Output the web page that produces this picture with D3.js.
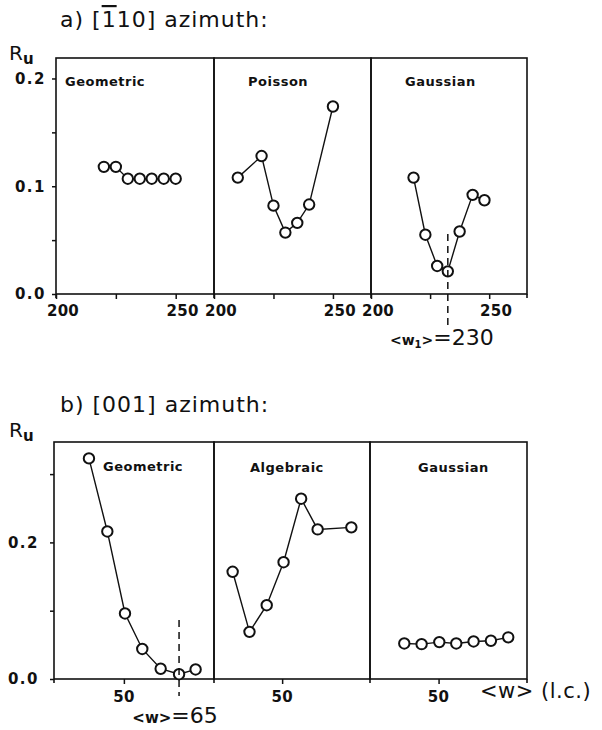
<!DOCTYPE html>
<meta charset="utf-8">
<html>
<style>
body { margin: 0; background: #fff; }
text { fill: #111; }
.tick { font-family: "DejaVu Sans", sans-serif; font-weight: bold; font-size: 15px; letter-spacing: 1.5px; }
.xtick { font-family: "DejaVu Sans", sans-serif; font-weight: bold; font-size: 15px; letter-spacing: 0.3px; }
.plabel { font-family: "DejaVu Sans", sans-serif; font-weight: bold; font-size: 13px; letter-spacing: 0.5px; }
.title { font-family: "DejaVu Sans", sans-serif; font-size: 22px; letter-spacing: 1px; }
.frame { fill: none; stroke: #111; stroke-width: 1.6px; }
.line { fill: none; stroke: #111; stroke-width: 1.4px; }
.dot { fill: #fff; stroke: #111; stroke-width: 2px; }
.dash { stroke: #111; stroke-width: 1.5px; stroke-dasharray: 7,5; }
</style>
<body>
<script src="https://d3js.org/d3.v7.min.js"></script>
<script>

// a) [-110] azimuth
var aLabels = ["Geometric", "Poisson", "Gaussian"];
var aGeomW = [220, 225, 230, 235, 240, 245, 250];
var aGeomR = [0.118, 0.118, 0.107, 0.107, 0.107, 0.107, 0.107];
var aPoisW = [210, 220, 225, 230, 235, 240, 250];
var aPoisR = [0.108, 0.128, 0.082, 0.057, 0.066, 0.083, 0.174];
var aGausW = [218, 223, 228, 232.5, 237.5, 243, 248];
var aGausR = [0.108, 0.055, 0.026, 0.021, 0.058, 0.092, 0.087];
var aXTicks = [200, 225, 250];
var aXLabels = [200, 250];
var aYTicks = [0, 0.05, 0.1, 0.15, 0.2];
var aYLabels = [0, 0.1, 0.2];
var aMarkW = 232.5, aMarkText = "230";

// b) [001] azimuth
var bLabels = ["Geometric", "Algebraic", "Gaussian"];
var bGeomW = [40.5, 45.5, 50.3, 55, 60, 65, 69.5];
var bGeomR = [0.323, 0.216, 0.096, 0.044, 0.015, 0.007, 0.014];
var bAlgW = [36.2, 40.9, 45.7, 50.4, 55.3, 59.9, 69.3];
var bAlgR = [0.157, 0.069, 0.108, 0.171, 0.264, 0.219, 0.222];
var bGausW = [40.5, 45.3, 50.2, 54.9, 59.7, 64.5, 69.3];
var bGausR = [0.052, 0.051, 0.054, 0.052, 0.055, 0.056, 0.061];
var bXTicks = [50];
var bXLabels = [50];
var bYTicks = [0, 0.1, 0.2, 0.3];
var bYLabels = [0, 0.2];
var bMarkW = 65, bMarkText = "65";

var svg = d3.select("body").append("svg")
    .attr("width", 602)
    .attr("height", 730);

function drawBlock(cfg) {
  var y = d3.scaleLinear().domain(cfg.yDomain).range([cfg.bottom, cfg.top]);
  var g = svg.append("g");

  cfg.series.forEach(function(s, i) {
    var x0 = cfg.edges[i], x1 = cfg.edges[i + 1];
    var x = d3.scaleLinear().domain(cfg.xDomain).range([x0, x1]);
    var p = g.append("g");

    // panel frame
    p.append("rect").attr("class", "frame")
        .attr("x", x0).attr("y", cfg.top)
        .attr("width", x1 - x0).attr("height", cfg.bottom - cfg.top);
    p.append("line").attr("class", "frame")
        .attr("x1", x0).attr("x2", x0).attr("y1", cfg.bottom).attr("y2", cfg.bottom + 4);
    if (i == cfg.series.length - 1)
      p.append("line").attr("class", "frame")
          .attr("x1", x1).attr("x2", x1).attr("y1", cfg.bottom).attr("y2", cfg.bottom + 4);

    // x axis ticks
    var ax = p.append("g")
        .attr("transform", "translate(0," + cfg.bottom + ")")
        .call(d3.axisBottom(x).tickValues(cfg.xTicks).tickSize(5).tickFormat(""));
    ax.select(".domain").remove();
    ax.selectAll("line").attr("stroke", "#111").attr("stroke-width", 1.5);

    p.selectAll(".xl").data(cfg.xLabels).enter().append("text")
        .attr("class", "xtick")
        .attr("x", function(d) { return x(d) + cfg.xLabelDx; })
        .attr("y", cfg.xLabelY)
        .attr("text-anchor", "middle")
        .text(function(d) { return d; });

    // data line + circles
    var pts = s.w.map(function(w, j) { return [w, s.r[j]]; });
    p.append("path").datum(pts).attr("class", "line")
        .attr("d", d3.line().x(function(d) { return x(d[0]); }).y(function(d) { return y(d[1]); }));
    p.selectAll("circle").data(pts).enter().append("circle")
        .attr("class", "dot")
        .attr("cx", function(d) { return x(d[0]); })
        .attr("cy", function(d) { return y(d[1]); })
        .attr("r", 5.2);

    p.append("text").attr("class", "plabel")
        .attr("x", x0 + cfg.labelDx[i])
        .attr("y", cfg.labelY[i])
        .text(s.label);

    if (i == cfg.markPanel) {
      p.append("line").attr("class", "dash")
          .attr("x1", x(cfg.markW)).attr("x2", x(cfg.markW))
          .attr("y1", cfg.markY[0]).attr("y2", cfg.markY[1]);
      cfg.markX = x(cfg.markW);
    }
  });

  // y axis
  var ay = g.append("g")
      .attr("transform", "translate(" + cfg.edges[0] + ",0)")
      .call(d3.axisLeft(y).tickValues(cfg.yTicks).tickSize(4).tickFormat(""));
  ay.select(".domain").remove();
  ay.selectAll("line").attr("stroke", "#111").attr("stroke-width", 1.5);

  g.selectAll(".yl").data(cfg.yLabels).enter().append("text")
      .attr("class", "tick")
      .attr("x", cfg.yLabelX)
      .attr("y", function(d) { return y(d); })
      .attr("dy", "0.36em")
      .attr("text-anchor", "end")
      .text(function(d) { return d3.format(".1f")(d); });

  // R_u
  var ru = g.append("text").attr("class", "title")
      .attr("x", 9).attr("y", cfg.ruY)
      .style("font-size", "20px").style("letter-spacing", "0px");
  ru.append("tspan").text("R");
  ru.append("tspan").attr("dy", 4).style("font-size", "15px").style("font-weight", "bold").text("u");

  return cfg;
}

// titles
var ta = svg.append("text").attr("class", "title").attr("x", 60).attr("y", 27);
ta.append("tspan").text("a) [");
ta.append("tspan").style("text-decoration", "overline").text("1");
ta.append("tspan").text("10]  azimuth:");

svg.append("text").attr("class", "title").attr("x", 60).attr("y", 412)
    .text("b) [001]  azimuth:");

var A = drawBlock({
  top: 58, bottom: 294, yDomain: [0, 0.219],
  edges: [56, 214, 371, 527], xDomain: [200, 266],
  series: [
    {label: aLabels[0], w: aGeomW, r: aGeomR},
    {label: aLabels[1], w: aPoisW, r: aPoisR},
    {label: aLabels[2], w: aGausW, r: aGausR}
  ],
  xTicks: aXTicks, xLabels: aXLabels, xLabelY: 316, xLabelDx: 7,
  yTicks: aYTicks, yLabels: aYLabels, yLabelX: 46,
  labelDx: [9, 34, 34], labelY: [86, 86, 86],
  markPanel: 2, markW: aMarkW, markY: [234, 328],
  ruY: 60
});

var B = drawBlock({
  top: 442, bottom: 679, yDomain: [0, 0.347],
  edges: [54, 214, 370, 527], xDomain: [31, 74.5],
  series: [
    {label: bLabels[0], w: bGeomW, r: bGeomR},
    {label: bLabels[1], w: bAlgW, r: bAlgR},
    {label: bLabels[2], w: bGausW, r: bGausR}
  ],
  xTicks: bXTicks, xLabels: bXLabels, xLabelY: 702, xLabelDx: 0,
  yTicks: bYTicks, yLabels: bYLabels, yLabelX: 39,
  labelDx: [49, 36, 48], labelY: [471, 472, 472],
  markPanel: 0, markW: bMarkW, markY: [620, 696],
  ruY: 437
});

// <w1>=230 and <w>=65 annotations
var ma = svg.append("text").attr("x", A.markX - 6).attr("y", 345).attr("text-anchor", "middle")
    .style("font-family", "DejaVu Sans, sans-serif");
ma.append("tspan").style("font-size", "14px").style("font-weight", "bold").text("<w");
ma.append("tspan").attr("dy", 3).style("font-size", "10px").style("font-weight", "bold").text("1");
ma.append("tspan").attr("dy", -3).style("font-size", "14px").style("font-weight", "bold").text(">");
ma.append("tspan").style("font-size", "22px").text("=" + aMarkText);

var mb = svg.append("text").attr("x", B.markX - 4).attr("y", 723).attr("text-anchor", "middle")
    .style("font-family", "DejaVu Sans, sans-serif");
mb.append("tspan").style("font-size", "15px").style("font-weight", "bold").text("<w>");
mb.append("tspan").style("font-size", "22px").text("=" + bMarkText);

// x axis title
svg.append("text").attr("class", "title").attr("x", 480).attr("y", 698)
    .style("font-size", "21px").style("letter-spacing", "0.5px")
    .text("<w> (l.c.)");

</script>
</body>
</html>
